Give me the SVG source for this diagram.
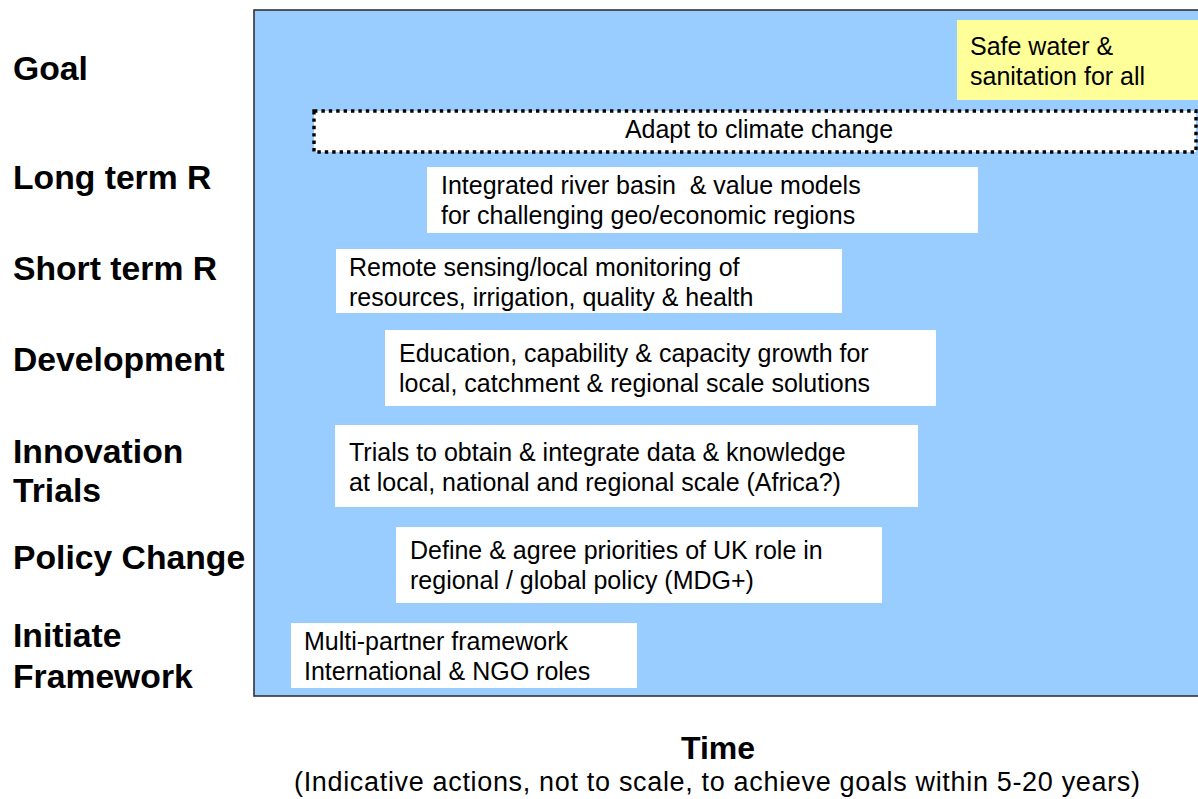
<svg xmlns="http://www.w3.org/2000/svg" width="1198" height="799" viewBox="0 0 1198 799">
  <style>
    .lbl { font-family: "Liberation Sans", Arial, sans-serif; font-weight: bold; font-size: 33.7px; fill: #000; }
    .txt { font-family: "Liberation Sans", Arial, sans-serif; font-size: 25px; fill: #000; white-space: pre; }
    .box { fill: #ffffff; }
    .goal { fill: #ffff99; }
    .dotted { fill: #ffffff; stroke: #000; stroke-width: 3.4; stroke-dasharray: 3.4 4; }
  </style>
  <rect width="1198" height="799" fill="#ffffff"/>

  <!-- stage labels -->
  <g id="labels">
    <text class="lbl" x="13" y="80">Goal</text>
    <text class="lbl" x="13" y="189">Long term R</text>
    <text class="lbl" x="13" y="280">Short term R</text>
    <text class="lbl" x="13" y="371">Development</text>
    <text class="lbl" x="13" y="463">Innovation</text>
    <text class="lbl" x="13" y="502">Trials</text>
    <text class="lbl" x="13" y="569">Policy Change</text>
    <text class="lbl" x="13" y="647">Initiate</text>
    <text class="lbl" x="13" y="688">Framework</text>
  </g>

  <!-- timeline panel -->
  <rect id="panel" x="254" y="10" width="960" height="686" fill="#99ccff" stroke="#333333" stroke-width="1.6"/>

  <g id="goal">
    <rect class="goal" x="957" y="20" width="241" height="80"/>
    <text class="txt" x="970" y="55">Safe water &amp;</text>
    <text class="txt" x="970" y="85">sanitation for all</text>
  </g>

  <g id="climate">
    <rect class="dotted" x="314" y="111" width="882" height="41"/>
    <text class="txt" x="759" y="138" text-anchor="middle">Adapt to climate change</text>
  </g>

  <g id="long-term">
    <rect class="box" x="427" y="167" width="551" height="66"/>
    <text class="txt" x="441" y="194" xml:space="preserve">Integrated river basin  &amp; value models</text>
    <text class="txt" x="441" y="224">for challenging geo/economic regions</text>
  </g>

  <g id="short-term">
    <rect class="box" x="336" y="249" width="506" height="64"/>
    <text class="txt" x="349" y="276">Remote sensing/local monitoring of</text>
    <text class="txt" x="349" y="306">resources, irrigation, quality &amp; health</text>
  </g>

  <g id="development">
    <rect class="box" x="385" y="330" width="551" height="76"/>
    <text class="txt" x="399" y="362">Education, capability &amp; capacity growth for</text>
    <text class="txt" x="399" y="392">local, catchment &amp; regional scale solutions</text>
  </g>

  <g id="trials">
    <rect class="box" x="335" y="425" width="583" height="82"/>
    <text class="txt" x="349" y="461">Trials to obtain &amp; integrate data &amp; knowledge</text>
    <text class="txt" x="349" y="491">at local, national and regional scale (Africa?)</text>
  </g>

  <g id="policy">
    <rect class="box" x="396" y="527" width="486" height="76"/>
    <text class="txt" x="410" y="559">Define &amp; agree priorities of UK role in</text>
    <text class="txt" x="410" y="589">regional / global policy (MDG+)</text>
  </g>

  <g id="framework">
    <rect class="box" x="291" y="623" width="346" height="65"/>
    <text class="txt" x="304" y="650">Multi-partner framework</text>
    <text class="txt" x="304" y="680">International &amp; NGO roles</text>
  </g>

  <g id="connectors"/>

  <!-- time axis caption -->
  <g id="time">
    <text x="718" y="759" text-anchor="middle" font-family="'Liberation Sans', Arial, sans-serif" font-weight="bold" font-size="32">Time</text>
    <text x="717" y="791" text-anchor="middle" font-family="'Liberation Sans', Arial, sans-serif" font-size="27" textLength="846">(Indicative actions, not to scale, to achieve goals within 5-20 years)</text>
  </g>
</svg>
